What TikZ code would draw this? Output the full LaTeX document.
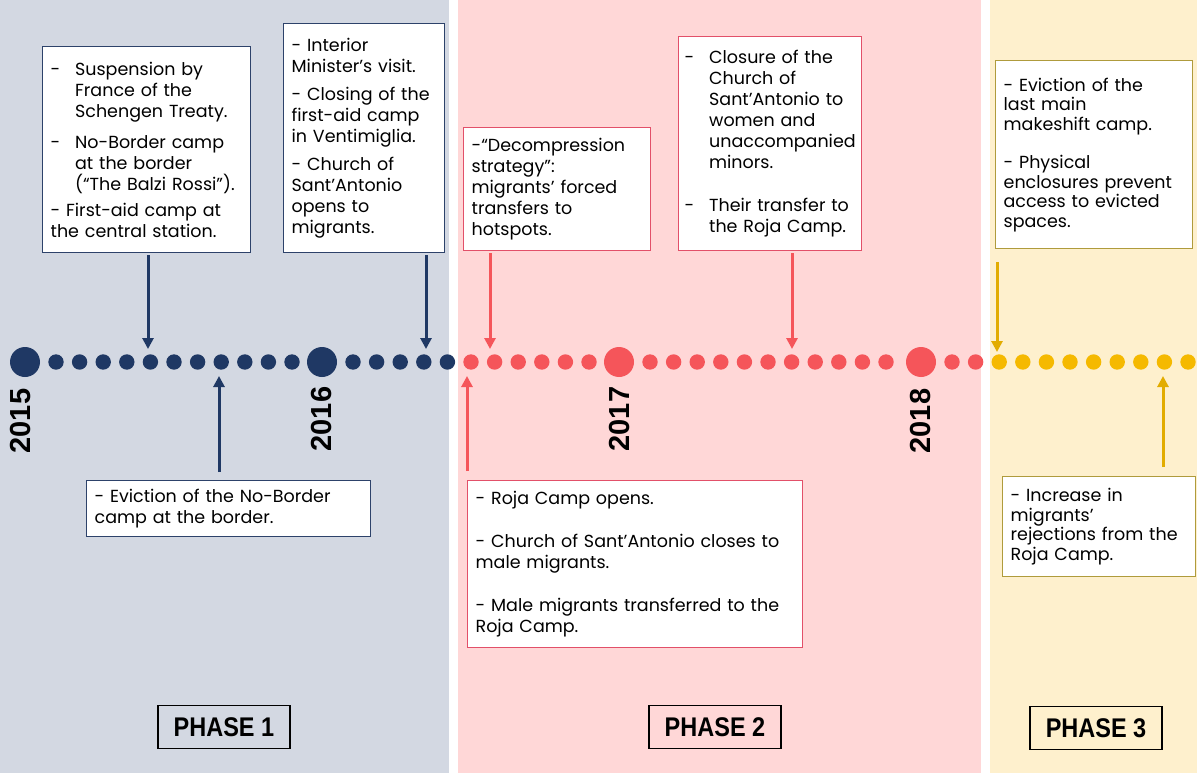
\documentclass[tikz,border=0pt]{standalone}
\usepackage{fontspec}
\usepackage{graphicx}
\setmainfont{Poppins}
\newfontfamily\yearfont{Liberation Sans}
\usetikzlibrary{arrows.meta}
\definecolor{navy}{RGB}{31,56,100}
\definecolor{navybox}{RGB}{45,66,106}
\definecolor{redline}{RGB}{245,85,90}
\definecolor{redbox}{RGB}{226,80,105}
\definecolor{gold}{RGB}{245,185,0}
\definecolor{goldline}{RGB}{226,172,0}
\definecolor{goldbox}{RGB}{175,155,60}
\definecolor{greybg}{RGB}{211,216,226}
\definecolor{pinkbg}{RGB}{255,215,215}
\definecolor{yellowbg}{RGB}{254,240,205}
\newcommand{\hangdash}{\makebox[1.4em][l]{-}}
\newcommand{\hangskip}{\hspace*{1.4em}}
\tikzset{%
  eventbox/.style={draw,fill=white,line width=1.3pt,anchor=north west,align=left,
    inner xsep=8pt,inner ysep=2pt,font=\fontsize{17.5}{21}\selectfont},%
  tightbox/.style={eventbox,font=\fontsize{17.5}{19.5}\selectfont},%
  yearlabel/.style={rotate=90,font=\yearfont\bfseries\fontsize{29}{29}\selectfont},%
  phasebox/.style={draw=black,line width=1.3pt,minimum width=132pt,minimum height=43pt,
    font=\yearfont\bfseries\fontsize{27}{27}\selectfont},%
  timearrow/.style={line width=3pt,-{Triangle[length=11pt,width=11pt]}},%
}
\begin{document}
\begin{tikzpicture}[x=1pt,y=-1pt]%

\fill[white] (0,0) rectangle (1203,776);%
\fill[greybg] (0,0) rectangle (449,773);%
\fill[pinkbg] (458,0) rectangle (981,773);%
\fill[yellowbg] (990,0) rectangle (1197,773);%
%
\def\ypos{362};%
\def\dotR{7.7pt};%
\def\yearR{15pt};%
\def\gap{31};%
\def\pitch{23.6};%
%
\def\date{25};%
\fill[navy] (\date,\ypos) circle (\yearR);%
\node[yearlabel] (y2015) at (\date-4,\ypos+59) {2015};%
\foreach \k in {0,...,10} \fill[navy] (\date+\gap+\pitch*\k,\ypos) circle (\dotR);%
%
\def\date{322};%
\fill[navy] (\date,\ypos) circle (\yearR);%
\node[yearlabel] (y2016) at (\date,\ypos+57) {2016};%
\foreach \k in {0,...,4} \fill[navy] (\date+\gap+\pitch*\k,\ypos) circle (\dotR);%
\foreach \k in {5,...,10} \fill[redline] (\date+\gap+\pitch*\k,\ypos) circle (\dotR);%
%
\def\date{619};%
\fill[redline] (\date,\ypos) circle (\yearR);%
\node[yearlabel] (y2017) at (\date+1,\ypos+57) {2017};%
\foreach \k in {0,...,10} \fill[redline] (\date+\gap+\pitch*\k,\ypos) circle (\dotR);%
%
\def\date{921};%
\fill[redline] (\date,\ypos) circle (\yearR);%
\node[yearlabel] (y2018) at (\date,\ypos+59) {2018};%
\foreach \k in {0,1} \fill[redline] (\date+\gap+\pitch*\k,\ypos) circle (\dotR);%
\foreach \k in {2,...,10} \fill[gold] (\date+\gap+\pitch*\k,\ypos) circle (\dotR);%
%
\node[eventbox,draw=navybox,text width=192pt,minimum height=206pt] (suspension) at (42,46)
  {\hangdash Suspension by\\ \hangskip France of the\\ \hangskip Schengen Treaty.\\[10pt]
   \hangdash No-Border camp\\ \hangskip at the border\\ \hangskip (“The Balzi Rossi”).\\[5pt]
   - First-aid camp at\\ the central station.};%
\node[eventbox,draw=navybox,text width=145pt,minimum height=229pt] (minister) at (283,23)
  {- Interior\\ Minister’s visit.\\[7pt]
   - Closing of the\\ first-aid camp\\ in Ventimiglia.\\[7pt]
   - Church of\\ Sant’Antonio\\ opens to\\ migrants.};%
\node[eventbox,draw=navybox,text width=268pt,minimum height=56pt] (noborder) at (86,480)
  {- Eviction of the No-Border\\ camp at the border.};%
%
\node[eventbox,draw=redbox,text width=171pt,minimum height=123pt] (decompression) at (463,127)
  {-“Decompression\\ strategy”:\\ migrants’ forced\\ transfers to\\ hotspots.};%
\node[eventbox,draw=redbox,inner xsep=6pt,text width=171pt,minimum height=214pt] (closure) at (678,36)
  {\hangdash Closure of the\\ \hangskip Church of\\ \hangskip Sant’Antonio to\\
   \hangskip women and\\ \hangskip \mbox{unaccompanied}\\ \hangskip minors.\\[22pt]
   \hangdash Their transfer to\\ \hangskip the Roja Camp.};%
\node[eventbox,draw=redbox,text width=319pt,minimum height=167pt] (rojaopens) at (467,480)
  {- Roja Camp opens.\\[22pt]
   - Church of Sant’Antonio closes to\\ male migrants.\\[22pt]
   - Male migrants transferred to the\\ Roja Camp.};%
%
\node[tightbox,draw=goldbox,text width=181pt,minimum height=188pt] (eviction) at (995,60)
  {- Eviction of the\\ last main\\ makeshift camp.\\[19pt]
   - Physical\\ enclosures prevent\\ access to evicted\\ spaces.};%
\node[tightbox,draw=goldbox,text width=177pt,minimum height=100pt] (rejections) at (1002,476)
  {- Increase in\\ migrants’\\ rejections from the\\ Roja Camp.};%
%
\coordinate (t1) at (148,349);%
\coordinate (t2) at (426,349);%
\coordinate (t3) at (219,376);%
\draw[timearrow,navy,shorten <=2pt] (suspension.south -| t1) -- (t1);%
\draw[timearrow,navy,shorten <=2pt] (minister.south -| t2) -- (t2);%
\draw[timearrow,navy,shorten <=8pt] (noborder.north -| t3) -- (t3);%
%
\coordinate (t4) at (490,349);%
\coordinate (t5) at (792,349);%
\coordinate (t6) at (467,376);%
\draw[timearrow,redline,shorten <=2pt] (decompression.south -| t4) -- (t4);%
\draw[timearrow,redline,shorten <=2pt] (closure.south -| t5) -- (t5);%
\draw[timearrow,redline,shorten <=9pt] (rojaopens.north -| t6) -- (t6);%
%
\coordinate (t7) at (997,352);%
\coordinate (t8) at (1163,376);%
\draw[timearrow,goldline,shorten <=13pt] (eviction.south -| t7) -- (t7);%
\draw[timearrow,goldline,shorten <=9pt] (rejections.north -| t8) -- (t8);%
%
\node[phasebox] (phase1) at (224,727) {\scalebox{0.87}[1]{PHASE 1}};%
\node[phasebox] (phase2) at (715,727) {\scalebox{0.87}[1]{PHASE 2}};%
\node[phasebox] (phase3) at (1096,728) {\scalebox{0.87}[1]{PHASE 3}};%
%
\end{tikzpicture}
\end{document}
